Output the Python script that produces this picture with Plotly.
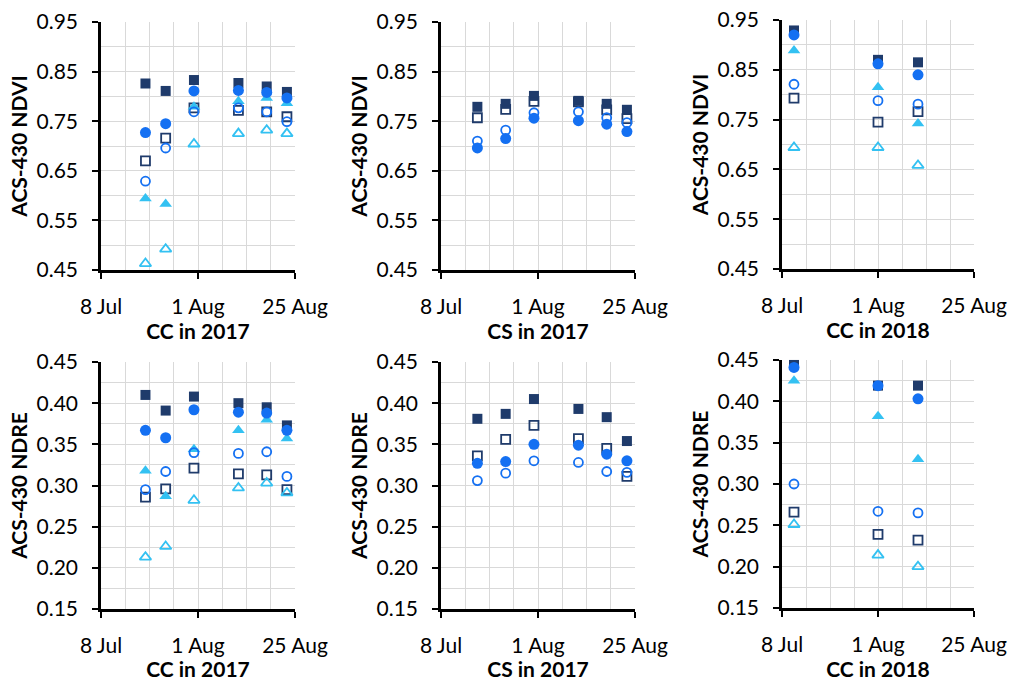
import plotly.graph_objects as go

# ---------------- data ----------------
dates_cc17 = ["2017-07-19", "2017-07-24", "2017-07-31", "2017-08-11", "2017-08-18", "2017-08-23"]
dates_cs17 = ["2017-07-17", "2017-07-24", "2017-07-31", "2017-08-11", "2017-08-18", "2017-08-23"]
dates_cc18 = ["2018-07-11", "2018-08-01", "2018-08-11"]

# NDVI, CC 2017
ndvi_cc17_fsq = [0.826, 0.811, 0.833, 0.827, 0.820, 0.809]
ndvi_cc17_osq = [0.670, 0.716, 0.777, 0.772, 0.769, 0.759]
ndvi_cc17_fci = [0.727, 0.745, 0.811, 0.812, 0.808, 0.797]
ndvi_cc17_oci = [0.629, 0.696, 0.769, 0.777, 0.769, 0.749]
ndvi_cc17_ftr = [0.594, 0.583, 0.779, 0.790, 0.797, 0.786]
ndvi_cc17_otr = [0.463, 0.492, 0.704, 0.725, 0.732, 0.725]

# NDVI, CS 2017
ndvi_cs17_fsq = [0.779, 0.785, 0.801, 0.791, 0.785, 0.773]
ndvi_cs17_osq = [0.757, 0.774, 0.790, 0.789, 0.773, 0.755]
ndvi_cs17_fci = [0.696, 0.715, 0.756, 0.751, 0.744, 0.729]
ndvi_cs17_oci = [0.710, 0.732, 0.767, 0.769, 0.757, 0.747]

# NDVI, CC 2018
ndvi_cc18_fsq = [0.929, 0.870, 0.865]
ndvi_cc18_osq = [0.793, 0.745, 0.766]
ndvi_cc18_fci = [0.920, 0.862, 0.840]
ndvi_cc18_oci = [0.821, 0.788, 0.781]
ndvi_cc18_ftr = [0.889, 0.815, 0.742]
ndvi_cc18_otr = [0.694, 0.694, 0.658]

# NDRE, CC 2017
ndre_cc17_fsq = [0.410, 0.391, 0.408, 0.400, 0.395, 0.373]
ndre_cc17_osq = [0.286, 0.296, 0.321, 0.314, 0.313, 0.295]
ndre_cc17_fci = [0.367, 0.358, 0.392, 0.389, 0.388, 0.367]
ndre_cc17_oci = [0.295, 0.317, 0.340, 0.339, 0.341, 0.311]
ndre_cc17_ftr = [0.318, 0.287, 0.344, 0.367, 0.380, 0.357]
ndre_cc17_otr = [0.213, 0.226, 0.282, 0.297, 0.303, 0.291]

# NDRE, CS 2017
ndre_cs17_fsq = [0.381, 0.387, 0.405, 0.393, 0.383, 0.354]
ndre_cs17_osq = [0.336, 0.356, 0.373, 0.357, 0.345, 0.311]
ndre_cs17_fci = [0.327, 0.329, 0.350, 0.349, 0.338, 0.330]
ndre_cs17_oci = [0.306, 0.315, 0.330, 0.328, 0.317, 0.316]

# NDRE, CC 2018
ndre_cc18_fsq = [0.444, 0.419, 0.419]
ndre_cc18_osq = [0.266, 0.239, 0.232]
ndre_cc18_fci = [0.441, 0.419, 0.403]
ndre_cc18_oci = [0.300, 0.267, 0.265]
ndre_cc18_ftr = [0.425, 0.382, 0.330]
ndre_cc18_otr = [0.251, 0.214, 0.200]

x_tick_text = ["8 Jul", "1 Aug", "25 Aug"]

# ---------------- styles ----------------
NAVY = "#1F3B6B"
BLUE = "#1470F2"
LIGHT = "#33C1F2"
FONT = "Lato"

styles = {
    "fsq": dict(symbol="square", size=10, color=NAVY, line=dict(width=0)),
    "osq": dict(symbol="square-open", size=9, color=NAVY, line=dict(width=1.8)),
    "fci": dict(symbol="circle", size=11, color=BLUE, line=dict(width=0)),
    "oci": dict(symbol="circle-open", size=9, color=BLUE, line=dict(width=1.8)),
    "ftr": dict(symbol="triangle-up", size=11, color=LIGHT, line=dict(width=0)),
    "otr": dict(symbol="triangle-up-open", size=10, color=LIGHT, line=dict(width=1.8)),
}

panels = [
    dict(dates=dates_cc17, year="2017", title="CC in 2017", ytitle="ACS-430 NDVI", yr=[0.45, 0.95], dt=0.1, mdt=0.05,
         series=dict(fsq=ndvi_cc17_fsq, osq=ndvi_cc17_osq, fci=ndvi_cc17_fci, oci=ndvi_cc17_oci, ftr=ndvi_cc17_ftr, otr=ndvi_cc17_otr),
         xd=[101, 295], yd=[22, 270]),
    dict(dates=dates_cs17, year="2017", title="CS in 2017", ytitle="ACS-430 NDVI", yr=[0.45, 0.95], dt=0.1, mdt=0.05,
         series=dict(fsq=ndvi_cs17_fsq, osq=ndvi_cs17_osq, fci=ndvi_cs17_fci, oci=ndvi_cs17_oci),
         xd=[441, 635], yd=[22, 270]),
    dict(dates=dates_cc18, year="2018", title="CC in 2018", ytitle="ACS-430 NDVI", yr=[0.45, 0.95], dt=0.1, mdt=0.05,
         series=dict(fsq=ndvi_cc18_fsq, osq=ndvi_cc18_osq, fci=ndvi_cc18_fci, oci=ndvi_cc18_oci, ftr=ndvi_cc18_ftr, otr=ndvi_cc18_otr),
         xd=[782, 974], yd=[20, 269]),
    dict(dates=dates_cc17, year="2017", title="CC in 2017", ytitle="ACS-430 NDRE", yr=[0.15, 0.45], dt=0.05, mdt=0.025,
         series=dict(fsq=ndre_cc17_fsq, osq=ndre_cc17_osq, fci=ndre_cc17_fci, oci=ndre_cc17_oci, ftr=ndre_cc17_ftr, otr=ndre_cc17_otr),
         xd=[101, 295], yd=[362, 609]),
    dict(dates=dates_cs17, year="2017", title="CS in 2017", ytitle="ACS-430 NDRE", yr=[0.15, 0.45], dt=0.05, mdt=0.025,
         series=dict(fsq=ndre_cs17_fsq, osq=ndre_cs17_osq, fci=ndre_cs17_fci, oci=ndre_cs17_oci),
         xd=[441, 635], yd=[362, 609]),
    dict(dates=dates_cc18, year="2018", title="CC in 2018", ytitle="ACS-430 NDRE", yr=[0.15, 0.45], dt=0.05, mdt=0.025,
         series=dict(fsq=ndre_cc18_fsq, osq=ndre_cc18_osq, fci=ndre_cc18_fci, oci=ndre_cc18_oci, ftr=ndre_cc18_ftr, otr=ndre_cc18_otr),
         xd=[782, 974], yd=[360, 608]),
]

W, H = 1012, 681
fig = go.Figure()
order = ["fsq", "osq", "ftr", "otr", "oci", "fci"]
GRID = "#D9D9D9"

for i, p in enumerate(panels, start=1):
    xa = "x" if i == 1 else f"x{i}"
    ya = "y" if i == 1 else f"y{i}"
    for key in order:
        if key not in p["series"]:
            continue
        st = styles[key]
        fig.add_trace(go.Scatter(
            x=p["dates"], y=p["series"][key], mode="markers",
            marker=st, xaxis=xa, yaxis=ya, showlegend=False, cliponaxis=False,
            name=key,
        ))
    yr = p["year"]
    tickvals = [f"{yr}-07-08", f"{yr}-08-01", f"{yr}-08-25"]
    xkey = "xaxis" if i == 1 else f"xaxis{i}"
    ykey = "yaxis" if i == 1 else f"yaxis{i}"
    fig.update_layout(**{
        xkey: dict(
            type="date", range=[f"{yr}-07-08", f"{yr}-08-25"],
            domain=[p["xd"][0] / W, p["xd"][1] / W], anchor=ya,
            tickmode="array", tickvals=tickvals, ticktext=x_tick_text,
            ticks="outside", ticklen=6, tickwidth=2, tickcolor="black",
            showline=True, linecolor="black", linewidth=2.5,
            showgrid=True, gridcolor=GRID, gridwidth=1,
            minor=dict(dtick=6 * 86400000, tick0=f"{yr}-07-08", showgrid=True, gridcolor=GRID, gridwidth=1),
            tickfont=dict(family=FONT, size=21, color="black"),
            ticklabelstandoff=10,
            title=dict(text=f"<b>{p['title']}</b>", font=dict(family=FONT, size=21, color="black"), standoff=2),
            automargin=False, zeroline=False, fixedrange=True,
        ),
        ykey: dict(
            range=p["yr"], domain=[1 - p["yd"][1] / H, 1 - p["yd"][0] / H], anchor=xa,
            tickmode="linear", tick0=p["yr"][0], dtick=p["dt"], tickformat=".2f",
            ticks="outside", ticklen=6, tickwidth=2, tickcolor="black",
            showline=True, linecolor="black", linewidth=2.5,
            showgrid=True, gridcolor=GRID, gridwidth=1,
            minor=dict(dtick=p["mdt"], tick0=p["yr"][0], showgrid=True, gridcolor=GRID, gridwidth=1),
            tickfont=dict(family=FONT, size=21, color="black"),
            ticklabelstandoff=10,
            title=dict(text=f"<b>{p['ytitle']}</b>", font=dict(family=FONT, size=21, color="black"), standoff=4),
            automargin=False, zeroline=False, fixedrange=True,
        ),
    })

fig.update_layout(
    width=W, height=H, margin=dict(l=0, r=0, t=0, b=0),
    paper_bgcolor="white", plot_bgcolor="white", showlegend=False,
)

fig.write_html("out.html", config={"displayModeBar": False})
